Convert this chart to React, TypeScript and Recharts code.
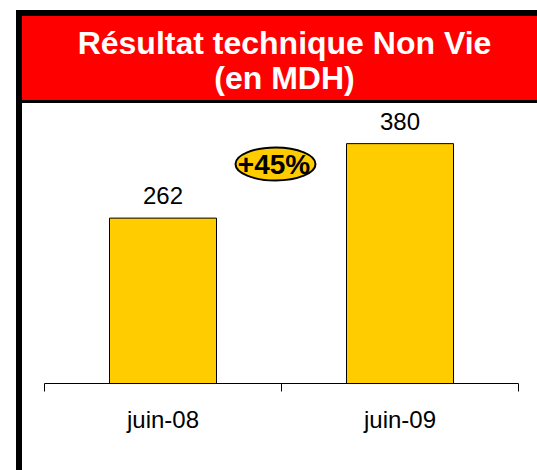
import React from "react";
import { Bar, BarChart, XAxis, YAxis, LabelList } from "recharts";

const categories = ["juin-08", "juin-09"];
const resultat = [262, 380];
const titleLines = ["Résultat technique Non Vie", "(en MDH)"];
const growthLabel = "+45%";

const chartData = categories.map((name, i) => ({ name, value: resultat[i] }));
// tick marks sit on the boundaries between categories (0..1 fraction of axis)
const boundaryTicks = Array.from({ length: categories.length + 1 }, (_, i) => i / categories.length);

const FONT = "'Liberation Sans', Arial, Helvetica, sans-serif";

const NoTick = () => null;

export default function App() {
  return (
    <div
      style={{
        position: "absolute",
        left: 0,
        top: 0,
        width: 537,
        height: 470,
        overflow: "hidden",
        background: "#fff",
        fontFamily: FONT,
      }}
    >
      {/* black frame on left and top */}
      <div
        style={{
          position: "absolute",
          left: 16,
          top: 10,
          width: 537,
          height: 470,
          borderLeft: "6px solid #000",
          borderTop: "6px solid #000",
        }}
      />
      {/* red header */}
      <div
        style={{
          position: "absolute",
          left: 22,
          top: 16,
          width: 515,
          height: 87,
          background: "#ff0000",
          borderBottom: "3px solid #000",
          color: "#fff",
          fontWeight: "bold",
          fontSize: 32,
          lineHeight: "35px",
          textAlign: "center",
          paddingTop: 10,
          paddingLeft: 10,
          boxSizing: "border-box",
          whiteSpace: "nowrap",
        }}
      >
        {titleLines.map((t) => (
          <div key={t}>{t}</div>
        ))}
      </div>

      <div style={{ position: "absolute", left: 0, top: 0 }}>
        <BarChart
          width={537}
          height={470}
          data={chartData}
          margin={{ top: 131, right: 18.5, bottom: 26.5, left: 44.5 }}
        >
          <XAxis
            xAxisId={0}
            type="number"
            domain={[0, 1]}
            allowDataOverflow
            ticks={boundaryTicks}
            interval={0}
            height={1}
            tick={NoTick}
            tickSize={8}
            stroke="#000"
            axisLine={{ stroke: "#000" }}
            tickLine={{ stroke: "#000" }}
          />
          <XAxis
            xAxisId={1}
            dataKey="name"
            height={59}
            axisLine={false}
            tickLine={false}
            tickSize={8}
            tickMargin={18}
            tick={{ fill: "#000", fontSize: 24, fontFamily: FONT }}
          />
          <YAxis hide domain={[0, 400]} />
          <Bar
            xAxisId={1}
            dataKey="value"
            fill="#ffcc00"
            stroke="#000"
            strokeWidth={1}
            barSize={107}
            isAnimationActive={false}
          >
            <LabelList
              dataKey="value"
              position="top"
              offset={14}
              fill="#000"
              fontSize={24}
              fontFamily={FONT}
            />
          </Bar>
        </BarChart>
      </div>

      {/* growth badge */}
      <svg
        width={537}
        height={470}
        style={{ position: "absolute", left: 0, top: 0, pointerEvents: "none" }}
      >
        <ellipse cx={275.5} cy={164} rx={40} ry={16.5} fill="#ffcc00" stroke="#000" strokeWidth={2} />
        <text
          x={274}
          y={174}
          textAnchor="middle"
          fontFamily={FONT}
          fontWeight="bold"
          fontSize={28}
          fill="#000"
        >
          {growthLabel}
        </text>
      </svg>
    </div>
  );
}
